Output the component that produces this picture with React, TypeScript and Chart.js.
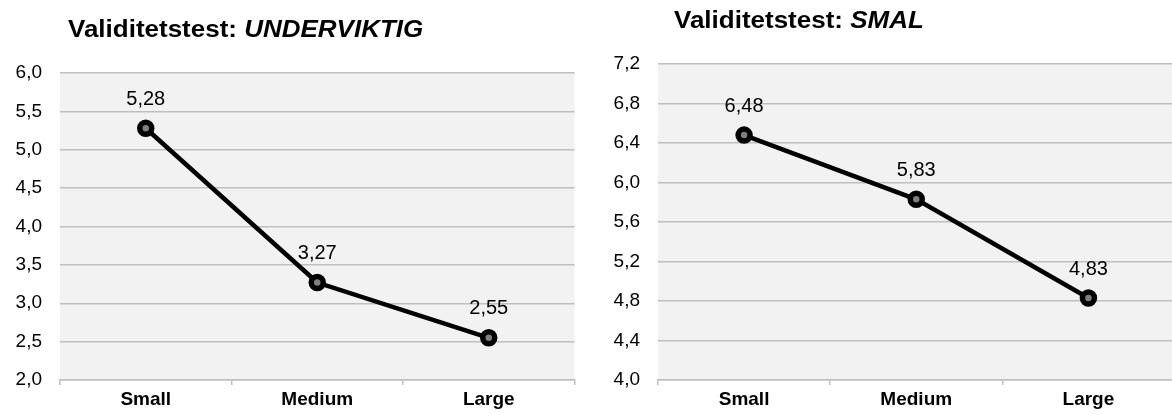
import React, { useEffect, useRef } from "react";
import { Chart, registerables } from "chart.js";

Chart.register(...registerables);

const FONT = '"Liberation Sans", Arial, Helvetica, sans-serif';

// Shared categories on the x axis
const categories = ["Small", "Medium", "Large"];

// Left panel: UNDERVIKTIG
const underviktigLabel = "UNDERVIKTIG";
const underviktigValues = [5.28, 3.27, 2.55];
const underviktigTicks = [2.0, 2.5, 3.0, 3.5, 4.0, 4.5, 5.0, 5.5, 6.0];

// Right panel: SMAL
const smalLabel = "SMAL";
const smalValues = [6.48, 5.83, 4.83];
const smalTicks = [4.0, 4.4, 4.8, 5.2, 5.6, 6.0, 6.4, 6.8, 7.2];

const titlePrefix = "Validitetstest: ";

const fmt = (v: number, digits: number) => v.toFixed(digits).replace(".", ",");

// Grey fill behind the plotting area
const plotBackground = {
  id: "plotBackground",
  beforeDraw(chart: any, _args: any, opts: any) {
    const { ctx, chartArea: a } = chart;
    ctx.save();
    ctx.fillStyle = opts.color;
    ctx.fillRect(a.left, a.top, a.right - a.left, a.bottom - a.top);
    ctx.restore();
  },
};

// Value written above each point
const valueLabels = {
  id: "valueLabels",
  afterDatasetsDraw(chart: any, _args: any, opts: any) {
    const { ctx } = chart;
    ctx.save();
    ctx.font = `${opts.size}px ${FONT}`;
    ctx.fillStyle = opts.color;
    ctx.textAlign = "center";
    ctx.textBaseline = "middle";
    chart.data.datasets.forEach((ds: any, i: number) => {
      const meta = chart.getDatasetMeta(i);
      meta.data.forEach((pt: any, j: number) => {
        ctx.fillText(fmt(ds.data[j] as number, 2), pt.x, pt.y - opts.offset);
      });
    });
    ctx.restore();
  },
};

// Title with an upright bold prefix and a bold italic keyword, set slightly wide
const splitTitle = {
  id: "splitTitle",
  afterDraw(chart: any, _args: any, opts: any) {
    const { ctx } = chart;
    ctx.save();
    ctx.translate(opts.x, opts.y);
    ctx.scale(opts.stretch, 1);
    ctx.fillStyle = "#000";
    ctx.textAlign = "left";
    ctx.textBaseline = "alphabetic";
    ctx.font = `bold ${opts.size}px ${FONT}`;
    ctx.fillText(opts.prefix, 0, 0);
    const w = ctx.measureText(opts.prefix).width;
    ctx.font = `italic bold ${opts.size}px ${FONT}`;
    ctx.fillText(opts.emphasis, w, 0);
    ctx.restore();
  },
};

type PanelProps = {
  width: number;
  height: number;
  emphasis: string;
  values: number[];
  ticks: number[];
  yAxisWidth: number;
  padRight: number;
  padTop: number;
  titleX: number;
  titleY: number;
};

function Panel(props: PanelProps) {
  const ref = useRef<HTMLCanvasElement | null>(null);

  useEffect(() => {
    if (!ref.current) return;
    const { ticks } = props;
    const chart = new Chart(ref.current, {
      type: "line",
      data: {
        labels: categories,
        datasets: [
          {
            data: props.values,
            borderColor: "#000",
            borderWidth: 4.5,
            tension: 0,
            pointRadius: 6,
            pointHoverRadius: 6,
            pointBorderWidth: 5.5,
            pointBackgroundColor: "#7f7f7f",
            pointBorderColor: "#000",
          },
        ],
      },
      options: {
        responsive: false,
        animation: false,
        devicePixelRatio: 1,
        layout: { padding: { left: 0, right: props.padRight, top: props.padTop, bottom: 0 } },
        plugins: {
          legend: { display: false },
          tooltip: { enabled: false },
          title: { display: false },
          plotBackground: { color: "#f2f2f2" },
          valueLabels: { size: 20, color: "#000", offset: 29 },
          splitTitle: {
            prefix: titlePrefix,
            emphasis: props.emphasis,
            x: props.titleX,
            y: props.titleY,
            size: 23,
            stretch: 1.13,
          },
        } as any,
        scales: {
          x: {
            type: "category",
            offset: true,
            grid: {
              offset: true,
              drawOnChartArea: false,
              drawTicks: true,
              tickLength: 5,
              color: "#bfbfbf",
              lineWidth: 1.5,
            },
            border: { display: true, color: "#bfbfbf", width: 1.5 },
            ticks: {
              color: "#000",
              padding: 3,
              font: { family: FONT, size: 19, weight: "bold" },
            },
            afterFit(scale: any) {
              scale.height = 34;
            },
          },
          y: {
            min: ticks[0],
            max: ticks[ticks.length - 1],
            grid: { color: "#bfbfbf", lineWidth: 1.5, drawTicks: false },
            border: { display: false },
            ticks: {
              color: "#000",
              padding: 18,
              font: { family: FONT, size: 19 },
              callback: (v: any) => fmt(Number(v), 1),
            },
            afterBuildTicks(scale: any) {
              scale.ticks = ticks.map((v) => ({ value: v }));
            },
            afterFit(scale: any) {
              scale.width = props.yAxisWidth;
            },
          },
        },
      },
      plugins: [plotBackground, valueLabels, splitTitle],
    });
    return () => chart.destroy();
  }, []);

  return (
    <canvas
      ref={ref}
      width={props.width}
      height={props.height}
      style={{ display: "block", width: props.width, height: props.height }}
    />
  );
}

export default function App() {
  return (
    <div
      style={{
        position: "absolute",
        left: 0,
        top: 0,
        width: 1172,
        height: 414,
        overflow: "hidden",
        background: "#fff",
      }}
    >
      <div style={{ position: "absolute", left: 0, top: 0 }}>
        <Panel
          width={586}
          height={414}
          emphasis={underviktigLabel}
          values={underviktigValues}
          ticks={underviktigTicks}
          yAxisWidth={60}
          padRight={9}
          padTop={73}
          titleX={68}
          titleY={37}
        />
      </div>
      <div style={{ position: "absolute", left: 586, top: 0 }}>
        <Panel
          width={600}
          height={414}
          emphasis={smalLabel}
          values={smalValues}
          ticks={smalTicks}
          yAxisWidth={72}
          padRight={7}
          padTop={64}
          titleX={88}
          titleY={28}
        />
      </div>
    </div>
  );
}
